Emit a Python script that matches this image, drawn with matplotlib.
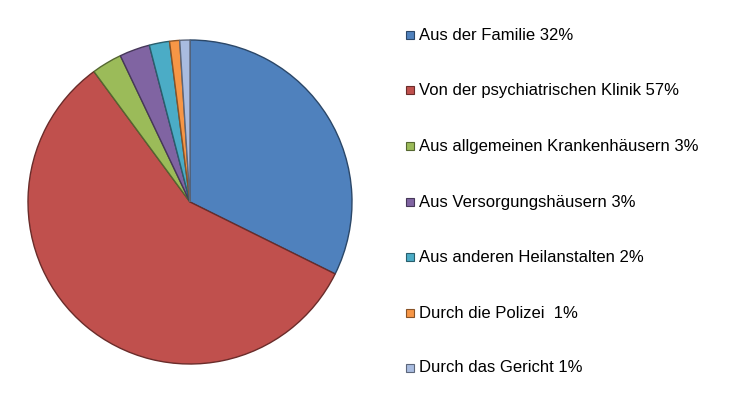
import matplotlib
matplotlib.use("Agg")
import matplotlib.pyplot as plt
from matplotlib.patches import Rectangle
import matplotlib.colors as mcolors

plt.rcParams['font.family'] = ['Liberation Sans', 'DejaVu Sans']

labels = ["Aus der Familie 32%", "Von der psychiatrischen Klinik 57%",
          "Aus allgemeinen Krankenhäusern 3%", "Aus Versorgungshäusern 3%",
          "Aus anderen Heilanstalten 2%", "Durch die Polizei  1%",
          "Durch das Gericht 1%"]
values = [32, 57, 3, 3, 2, 1, 1]
colors = ["#4F81BD", "#C0504D", "#9BBB59", "#8064A2", "#4BACC6", "#F79646", "#A9BCE0"]

W, H = 732, 398
fig = plt.figure(figsize=(W / 100, H / 100), dpi=100)
fig.patch.set_facecolor("white")

cx, cy, r = 190, 202, 162
ax = fig.add_axes([(cx - r) / W, (H - cy - r) / H, 2 * r / W, 2 * r / H])

def darker(c, f=0.6):
    rgb = mcolors.to_rgb(c)
    return tuple(x * f for x in rgb)

wedges, _ = ax.pie(values, colors=colors, startangle=90, counterclock=False,
                   radius=1.0, wedgeprops=dict(linewidth=1.0))
for w, c in zip(wedges, colors):
    w.set_edgecolor(darker(c, 0.55))
ax.set_xlim(-1.0, 1.0)
ax.set_ylim(-1.0, 1.0)
ax.set_aspect("equal")
ax.axis("off")

# legend
ys = [35, 90, 146, 202, 257, 313, 368]
for lab, c, y in zip(labels, colors, ys):
    s = 8
    fig.patches.append(Rectangle(((406) / W, (H - y - s / 2) / H), s / W, s / H,
                                 transform=fig.transFigure, facecolor=c,
                                 edgecolor=darker(c, 0.55), linewidth=0.8))
    fig.text(419 / W, (H - y) / H, lab, fontsize=12, va="center", ha="left",
             color="#000000")

fig.savefig("out.png", dpi=100)
